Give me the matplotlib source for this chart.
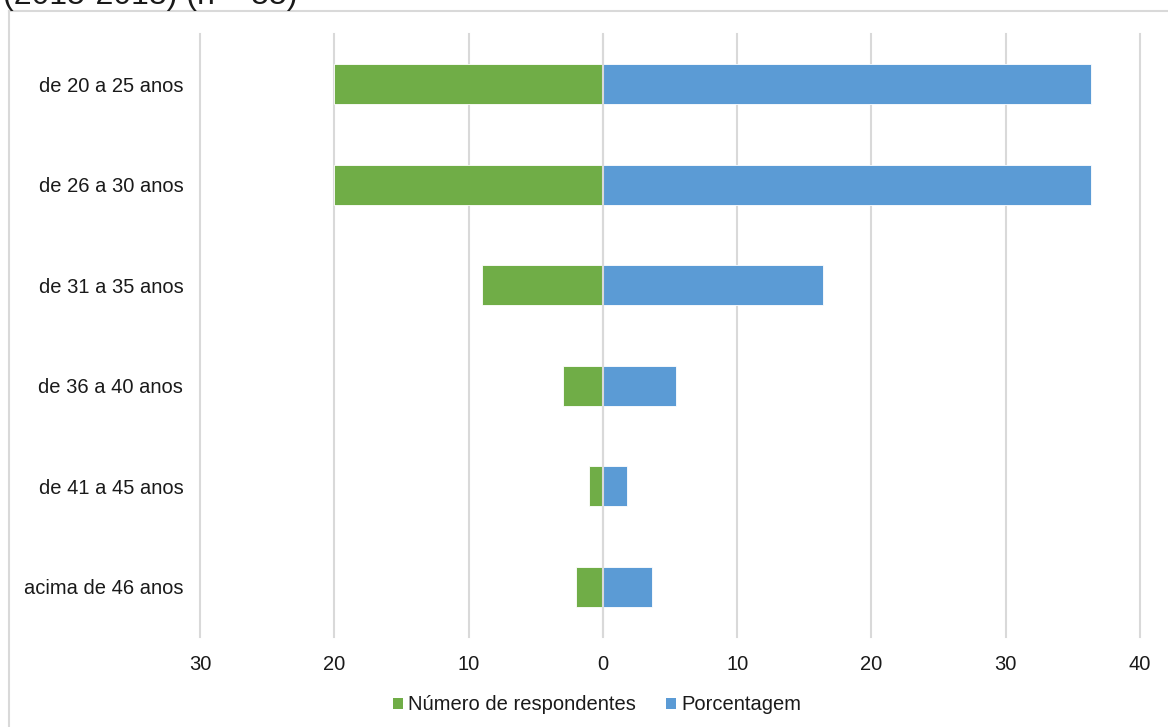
import matplotlib
matplotlib.use("Agg")
import matplotlib.pyplot as plt
from matplotlib.lines import Line2D
from matplotlib.patches import Patch
from matplotlib.ticker import FixedLocator, FuncFormatter

plt.rcParams['font.family'] = ['Liberation Sans', 'DejaVu Sans']

categories = ["de 20 a 25 anos", "de 26 a 30 anos", "de 31 a 35 anos",
              "de 36 a 40 anos", "de 41 a 45 anos", "acima de 46 anos"]
respondentes = [20, 20, 9, 3, 1, 2]
porcentagem = [36.36, 36.36, 16.36, 5.45, 1.82, 3.64]
xticks = [-30, -20, -10, 0, 10, 20, 30, 40]
series_names = ["Número de respondentes", "Porcentagem"]
title_text = "(2015-2018) (n = 55)"

GREEN = "#70AD47"
BLUE = "#5B9BD5"
GRID = "#D9D9D9"
TXT = "#1a1a1a"

W, H = 1168, 727
fig = plt.figure(figsize=(W / 100, H / 100), dpi=100)

# Outer chart frame (partially visible)
fig.add_artist(Line2D([9 / W, 1.0], [1 - 11 / H, 1 - 11 / H], transform=fig.transFigure,
                      color=GRID, lw=1.5))
fig.add_artist(Line2D([9 / W, 9 / W], [0.0, 1 - 11 / H], transform=fig.transFigure,
                      color=GRID, lw=1.5))

fig.text(3 / W, 1 - 4 / H, title_text, fontsize=23, va='baseline', ha='left', color=TXT)

left, right, top, bottom = 200, 1140, 34, 637
ax = fig.add_axes([left / W, 1 - bottom / H, (right - left) / W, (bottom - top) / H])

y = list(range(len(categories)))
ax.barh(y, [-v for v in respondentes], height=0.4, color=GREEN, edgecolor="white",
        linewidth=0.6, zorder=2)
ax.barh(y, porcentagem, height=0.4, color=BLUE, edgecolor="white",
        linewidth=0.6, zorder=2)

ax.set_xlim(xticks[0], xticks[-1])
ax.set_ylim(len(categories) - 0.5, -0.5)
ax.xaxis.set_major_locator(FixedLocator(xticks))
ax.xaxis.set_major_formatter(FuncFormatter(lambda v, p: f"{abs(int(round(v)))}"))
ax.set_yticks(y)
ax.set_yticklabels(categories)

ax.grid(axis='x', color=GRID, lw=1.5, zorder=1)
for gl in ax.get_xgridlines():
    gl.set_clip_on(False)
ax.set_axisbelow(True)
ax.axvline(0, color=GRID, lw=1.5, zorder=3)
for s in ax.spines.values():
    s.set_visible(False)
ax.tick_params(axis='both', length=0, labelsize=14.5, colors=TXT)
ax.tick_params(axis='x', pad=13)
ax.tick_params(axis='y', pad=12)

handles = [Patch(facecolor=GREEN), Patch(facecolor=BLUE)]
fig.legend(handles, series_names, loc='center', bbox_to_anchor=(597 / W, 1 - 705 / H),
           ncol=2, frameon=False, fontsize=14.5, handlelength=0.5, handleheight=0.5,
           handletextpad=0.25, columnspacing=1.5, labelcolor=TXT)

fig.savefig("out.png", dpi=100)
